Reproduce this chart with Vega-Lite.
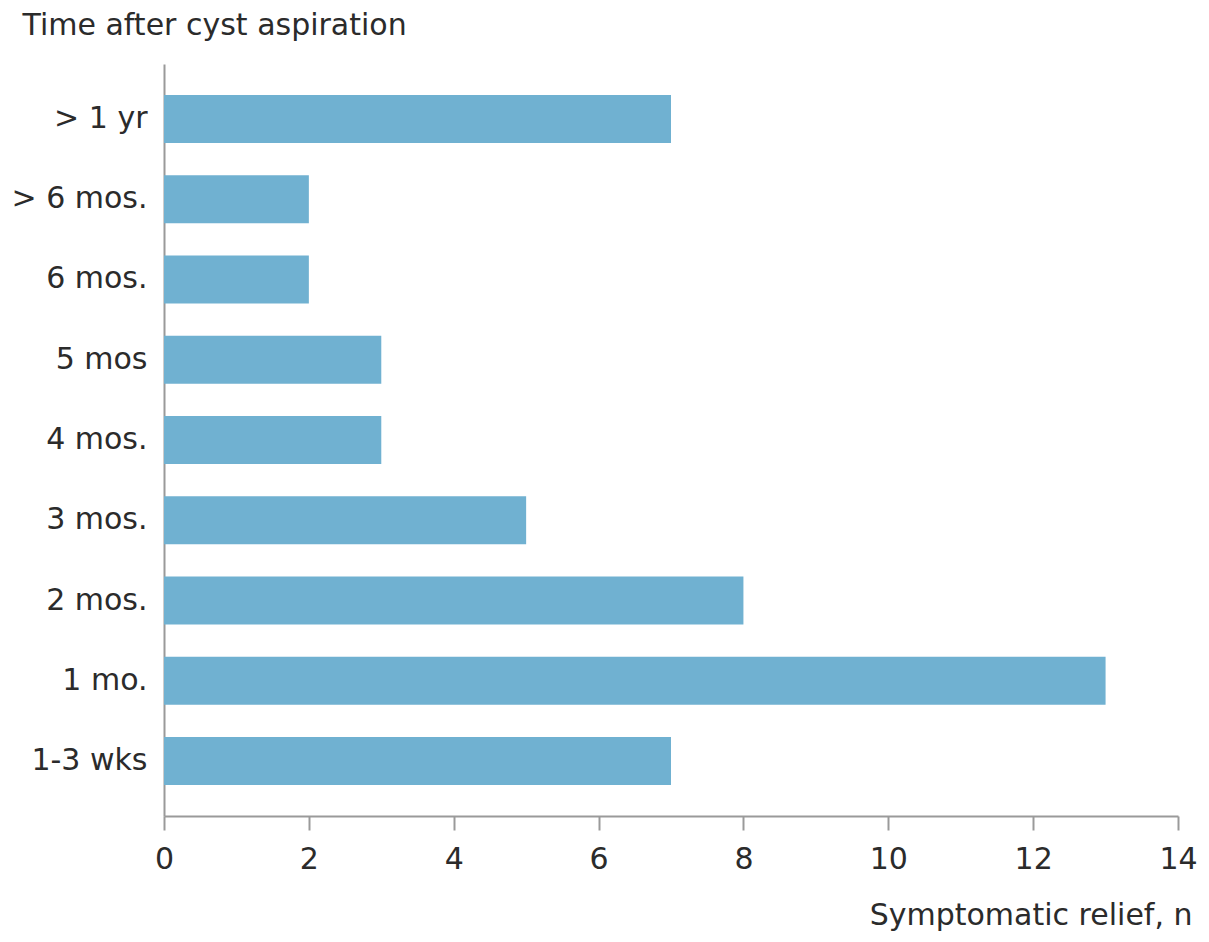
{
  "$schema": "https://vega.github.io/schema/vega-lite/v6.json",
  "width": 1014,
  "height": 752,
  "autosize": {"type": "none"},
  "padding": {"left": 164, "top": 64, "right": 31, "bottom": 126},
  "background": "white",
  "config": {"view": {"stroke": null}},
  "data": {
    "values": [
      {"time": "> 1 yr", "n": 7},
      {"time": "> 6 mos.", "n": 2},
      {"time": "6 mos.", "n": 2},
      {"time": "5 mos", "n": 3},
      {"time": "4 mos.", "n": 3},
      {"time": "3 mos.", "n": 5},
      {"time": "2 mos.", "n": 8},
      {"time": "1 mo.", "n": 13},
      {"time": "1-3 wks", "n": 7}
    ]
  },
  "mark": {"type": "bar", "color": "#70b1d1"},
  "encoding": {
    "y": {
      "field": "time",
      "type": "nominal",
      "sort": null,
      "scale": {"paddingInner": 0.4, "paddingOuter": 0.385},
      "axis": {
        "title": "Time after cyst aspiration",
        "titleAngle": 0,
        "titleAlign": "left",
        "titleBaseline": "alphabetic",
        "titleX": -142,
        "titleY": -30,
        "titleFont": "DejaVu Sans",
        "titleFontSize": 30,
        "titleFontWeight": "normal",
        "titleColor": "#2b2b2b",
        "labelFont": "DejaVu Sans",
        "labelFontSize": 30,
        "labelColor": "#2b2b2b",
        "labelPadding": 17,
        "ticks": false,
        "domainColor": "#9a9a9a",
        "domainWidth": 2,
        "grid": false
      }
    },
    "x": {
      "field": "n",
      "type": "quantitative",
      "scale": {"domain": [0, 14], "nice": false},
      "axis": {
        "values": [0, 2, 4, 6, 8, 10, 12, 14],
        "title": "Symptomatic relief, n",
        "titleAlign": "right",
        "titleAnchor": null,
        "titleBaseline": "alphabetic",
        "titleX": 1028,
        "titleY": 108,
        "titleFont": "DejaVu Sans",
        "titleFontSize": 30,
        "titleFontWeight": "normal",
        "titleColor": "#2b2b2b",
        "labelFont": "DejaVu Sans",
        "labelFontSize": 30,
        "labelColor": "#2b2b2b",
        "labelPadding": 14,
        "labelFlush": false,
        "labelOverlap": false,
        "tickSize": 14,
        "tickWidth": 2,
        "tickColor": "#9a9a9a",
        "domainColor": "#9a9a9a",
        "domainWidth": 2,
        "grid": false
      }
    }
  }
}
